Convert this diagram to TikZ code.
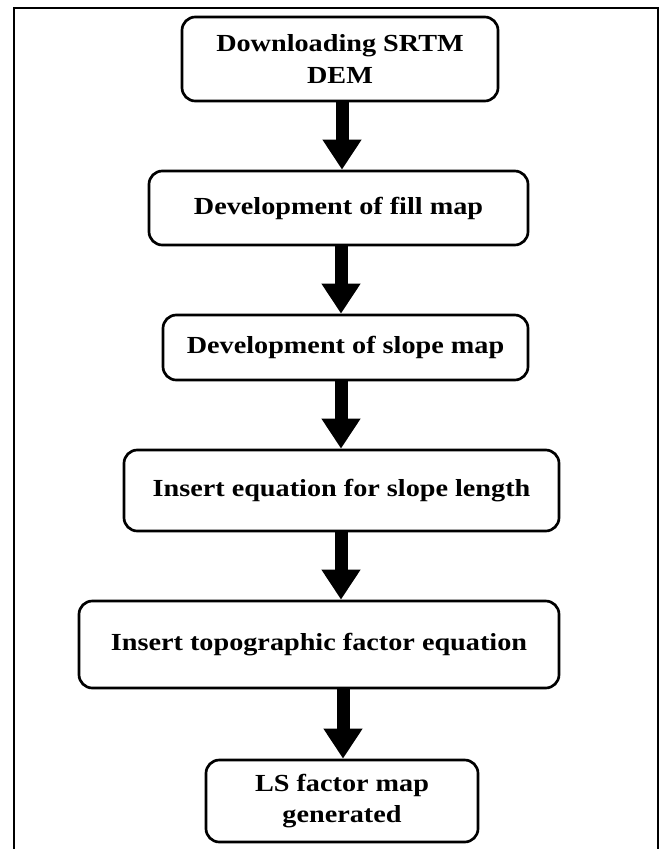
\documentclass[tikz,border=0pt]{standalone}
\usepackage{fontspec}
\setmainfont[FakeStretch=1.15]{Liberation Serif}
\usetikzlibrary{arrows.meta}
\tikzset{
  stepbox/.style={draw=black, line width=2pt, rounded corners=10pt, fill=white,
    align=center, inner sep=0pt, font=\bfseries\fontsize{18.4}{23.5}\selectfont},
  flowarrow/.style={line width=9.75pt, -{Triangle[width=27.75pt,length=22.5pt]}},
  frame/.style={draw=black, line width=1.5pt}
}
\begin{document}
\begin{tikzpicture}[x=0.75pt,y=-0.75pt]
\useasboundingbox (0,0) rectangle (660,849);
\draw[frame] (14,870) -- (14,8) -- (658,8) -- (658,870);
\node[stepbox, minimum width=237pt, minimum height=63pt] (b1) at (340,59) {Downloading SRTM\\DEM};
\node[stepbox, minimum width=284.25pt, minimum height=55.5pt] (b2) at (338.5,208) {Development of fill map};
\node[stepbox, minimum width=273.75pt, minimum height=48.75pt] (b3) at (345.5,347.5) {Development of slope map};
\node[stepbox, minimum width=326.25pt, minimum height=60.75pt] (b4) at (341.5,490.5) {Insert equation for slope length};
\node[stepbox, minimum width=360pt, minimum height=65.25pt] (b5) at (319,644.5) {Insert topographic factor equation};
\node[stepbox, minimum width=204pt, minimum height=61.5pt] (b6) at (342,801) {LS factor map\\generated};
\coordinate (a1) at (342,0);
\coordinate (a2) at (341,0);
\coordinate (a5) at (343,0);
\draw[flowarrow] (b1.south -| a1) -- (b2.north -| a1);
\draw[flowarrow] (b2.south -| a2) -- (b3.north -| a2);
\draw[flowarrow] (b3.south -| a2) -- (b4.north -| a2);
\draw[flowarrow] (b4.south -| a2) -- (b5.north -| a2);
\draw[flowarrow] (b5.south -| a5) -- (b6.north -| a5);
\end{tikzpicture}
\end{document}
